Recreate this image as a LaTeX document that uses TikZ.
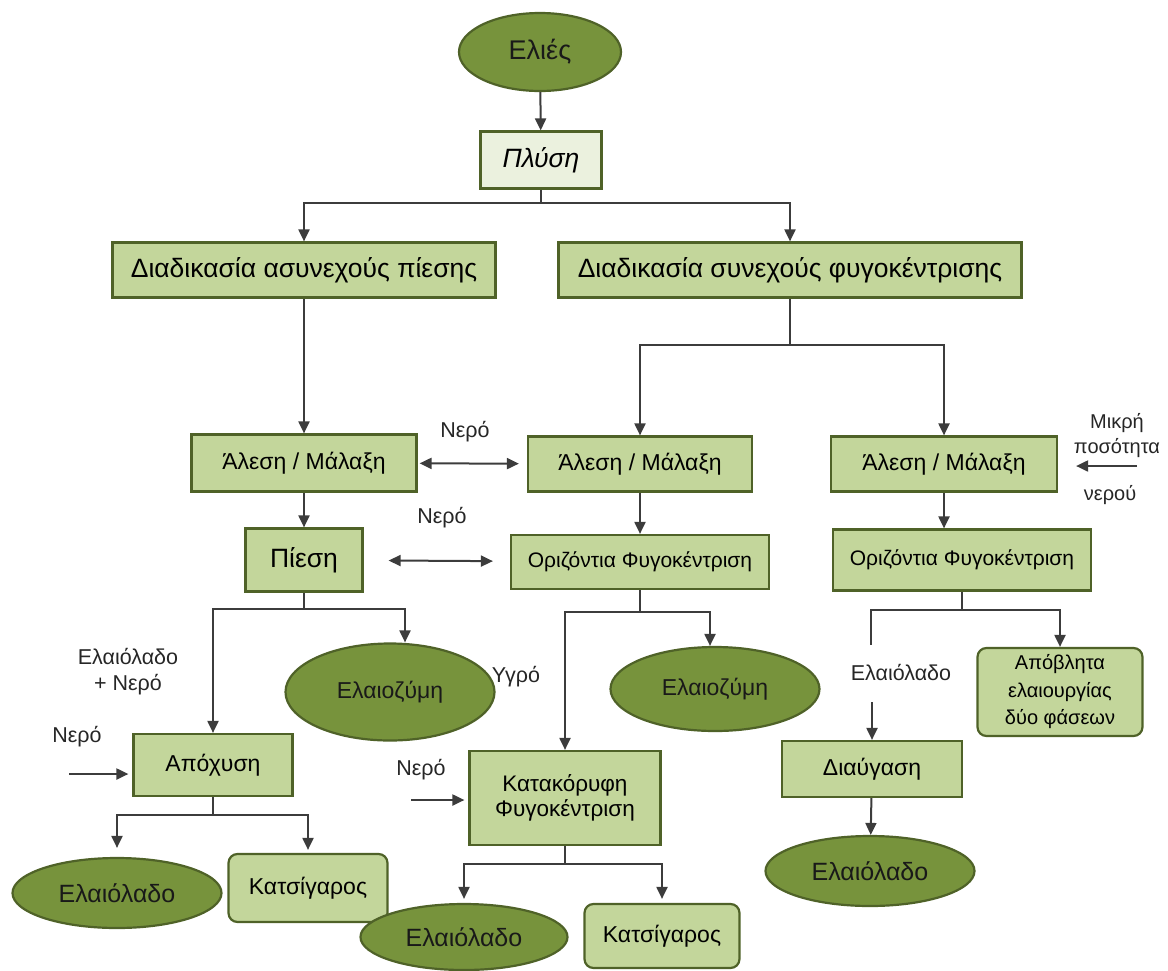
\documentclass[tikz,border=0pt]{standalone}
\usepackage{fontspec}
\setmainfont{Liberation Sans}
\usetikzlibrary{shapes.geometric,arrows.meta}
\definecolor{olivedark}{HTML}{77933C}
\definecolor{olivelight}{HTML}{C3D69B}
\definecolor{olivepale}{HTML}{EBF1DE}
\definecolor{oliveline}{HTML}{4F6228}
\definecolor{linegrey}{HTML}{3C3C3C}
\newcommand{\hugetxt}{\fontsize{26.5}{30}\selectfont}
\newcommand{\bigtxt}{\fontsize{23}{27}\selectfont}
\newcommand{\midtxt}{\fontsize{21.5}{26}\selectfont}
\newcommand{\smalltxt}{\fontsize{21}{25}\selectfont}
\tikzset{
  procbox/.style={rectangle, draw=oliveline, fill=olivelight, line width=2.2pt, inner sep=0pt, align=center, font=\bigtxt},
  endbox/.style={procbox, rounded corners=9pt},
  product/.style={ellipse, draw=oliveline, fill=olivedark, line width=2.2pt, inner sep=0pt, font=\bigtxt, text=black!90},
  lbl/.style={align=center, inner sep=0pt, font=\midtxt, text=black!85},
  arr/.style={draw=linegrey, line width=2pt, -{Triangle[length=12pt,width=11pt]}},
  dblarr/.style={arr, {Triangle[length=12pt,width=11pt]}-{Triangle[length=12pt,width=11pt]}},
  link/.style={draw=linegrey, line width=2pt}
}
\begin{document}
\begin{tikzpicture}[x=1pt,y=-1pt]
\useasboundingbox (0,0) rectangle (1168,970);
\node[product, minimum width=162pt, minimum height=78pt, font=\fontsize{27}{30}\selectfont] (elies) at (540,52) {Ελιές};
\node[procbox, fill=olivepale, minimum width=121pt, minimum height=57pt, font=\hugetxt\itshape] (plysi) at (541,160) {Πλύση};
\node[procbox, minimum width=383pt, minimum height=55pt, font=\hugetxt] (asyn) at (304,270) {Διαδικασία ασυνεχούς πίεσης};
\node[procbox, minimum width=463pt, minimum height=55pt, font=\hugetxt] (syn) at (790,270) {Διαδικασία συνεχούς φυγοκέντρισης};
\node[procbox, minimum width=225pt, minimum height=57pt] (alesiA) at (304,463) {Άλεση / Μάλαξη};
\node[procbox, minimum width=224pt, minimum height=55pt] (alesiB) at (640,464) {Άλεση / Μάλαξη};
\node[procbox, minimum width=226pt, minimum height=55pt] (alesiC) at (944,464) {Άλεση / Μάλαξη};
\node[procbox, minimum width=117pt, minimum height=63pt, font=\hugetxt] (piesi) at (304,560) {Πίεση};
\node[procbox, minimum width=258pt, minimum height=54pt, font=\smalltxt] (orizB) at (640,562) {Οριζόντια Φυγοκέντριση};
\node[procbox, minimum width=258pt, minimum height=61pt, font=\smalltxt] (orizC) at (962,560) {Οριζόντια Φυγοκέντριση};
\node[product, minimum width=209pt, minimum height=97pt] (zymiA) at (390,692) {Ελαιοζύμη};
\node[product, minimum width=209pt, minimum height=84pt] (zymiB) at (715,689) {Ελαιοζύμη};
\node[endbox, minimum width=165pt, minimum height=88pt, font=\fontsize{20}{27.5}\selectfont] (apovl) at (1060,692) {Απόβλητα\\ελαιουργίας\\δύο φάσεων};
\node[procbox, minimum width=159pt, minimum height=62pt] (apoch) at (213,765) {Απόχυση};
\node[procbox, minimum width=191pt, minimum height=94pt, font=\fontsize{22.5}{25}\selectfont] (katak) at (565,798) {Κατακόρυφη\\Φυγοκέντριση};
\node[procbox, minimum width=180pt, minimum height=56pt] (diaug) at (872,769) {Διαύγαση};
\node[product, minimum width=209pt, minimum height=70pt, font=\fontsize{25}{28}\selectfont] (ladoA) at (117,893) {Ελαιόλαδο};
\node[endbox, minimum width=159pt, minimum height=68pt] (katsA) at (308,888) {Κατσίγαρος};
\node[product, minimum width=207pt, minimum height=66pt, font=\fontsize{25}{28}\selectfont] (ladoB) at (464,937) {Ελαιόλαδο};
\node[endbox, minimum width=155pt, minimum height=64pt] (katsB) at (662,936) {Κατσίγαρος};
\node[product, minimum width=209pt, minimum height=70pt, font=\fontsize{25}{28}\selectfont] (ladoC) at (870,871) {Ελαιόλαδο};
\node[lbl] (nero1) at (465,432) {Νερό};
\node[lbl] (nero2) at (442,518) {Νερό};
\node[lbl, font=\fontsize{20}{25}\selectfont] (mikri) at (1117,436) {Μικρή\\ποσότητα};
\node[lbl, font=\fontsize{20}{25}\selectfont] (nerou) at (1110,495) {νερού};
\node[lbl] (ladonero) at (128,672) {Ελαιόλαδο\\+ Νερό};
\node[lbl] (ygro) at (516,677) {Υγρό};
\node[lbl] (ladolbl) at (901,672) {Ελαιόλαδο};
\node[lbl] (nero3) at (77,737) {Νερό};
\node[lbl] (nero4) at (421,770) {Νερό};
\coordinate (in1) at (69,774);
\coordinate (in2) at (411,800);
\coordinate (in3) at (1137,466);
\draw[arr] (elies) -- (plysi);
\draw[link] (plysi.south) -- ++(0,13) coordinate (sp1);
\draw[arr] (sp1) -| (asyn.north);
\draw[arr] (sp1) -| (syn.north);
\draw[arr] (asyn) -- (alesiA);
\draw[link] (syn.south) -- ++(0,46) coordinate (sp2);
\draw[arr] (sp2) -| (alesiB.north);
\draw[arr] (sp2) -| (alesiC.north);
\draw[dblarr, shorten <=2pt, shorten >=8pt] (alesiA) -- (alesiB);
\draw[dblarr, shorten <=25pt, shorten >=17pt] (piesi) -- (orizB);
\draw[arr, shorten >=18pt] (in3) -- (in3 -| alesiC.east);
\draw[arr] (alesiA) -- (piesi);
\draw[arr] (alesiB) -- (orizB);
\draw[arr] (alesiC) -- (alesiC |- orizC.north);
\draw[link] (piesi.south) -- ++(0,16) coordinate (sp3);
\draw[arr] (sp3) -| (apoch.north);
\draw[arr] (sp3) -| ([xshift=15pt]zymiA.north);
\draw[link] (orizB.south) -- ++(0,22) coordinate (sp4);
\draw[arr] (sp4) -| (katak.north);
\draw[arr] (sp4) -| ([xshift=-5pt]zymiB.north);
\draw[link] (orizC.south) -- ++(0,18) coordinate (sp5);
\draw[link] (sp5) -| ++(-91,35);
\draw[arr] (sp5) -| (apovl.north);
\draw[arr] (ladolbl.south -| diaug.north) ++(0,22) -- (diaug.north);
\draw[arr] (diaug) -- (ladoC);
\draw[arr, shorten >=4pt] (in1) -- (in1 -| apoch.west);
\draw[arr, shorten >=4pt] (in2) -- (in2 -| katak.west);
\draw[link] (apoch.south) -- ++(0,18) coordinate (sp6);
\draw[arr, shorten >=9pt] (sp6) -| (ladoA.north);
\draw[arr, shorten >=3pt] (sp6) -| (katsA.north);
\draw[link] (katak.south) -- ++(0,18) coordinate (sp7);
\draw[arr, shorten >=4pt] (sp7) -| (ladoB.north);
\draw[arr, shorten >=4pt] (sp7) -| (katsB.north);
\end{tikzpicture}
\end{document}
